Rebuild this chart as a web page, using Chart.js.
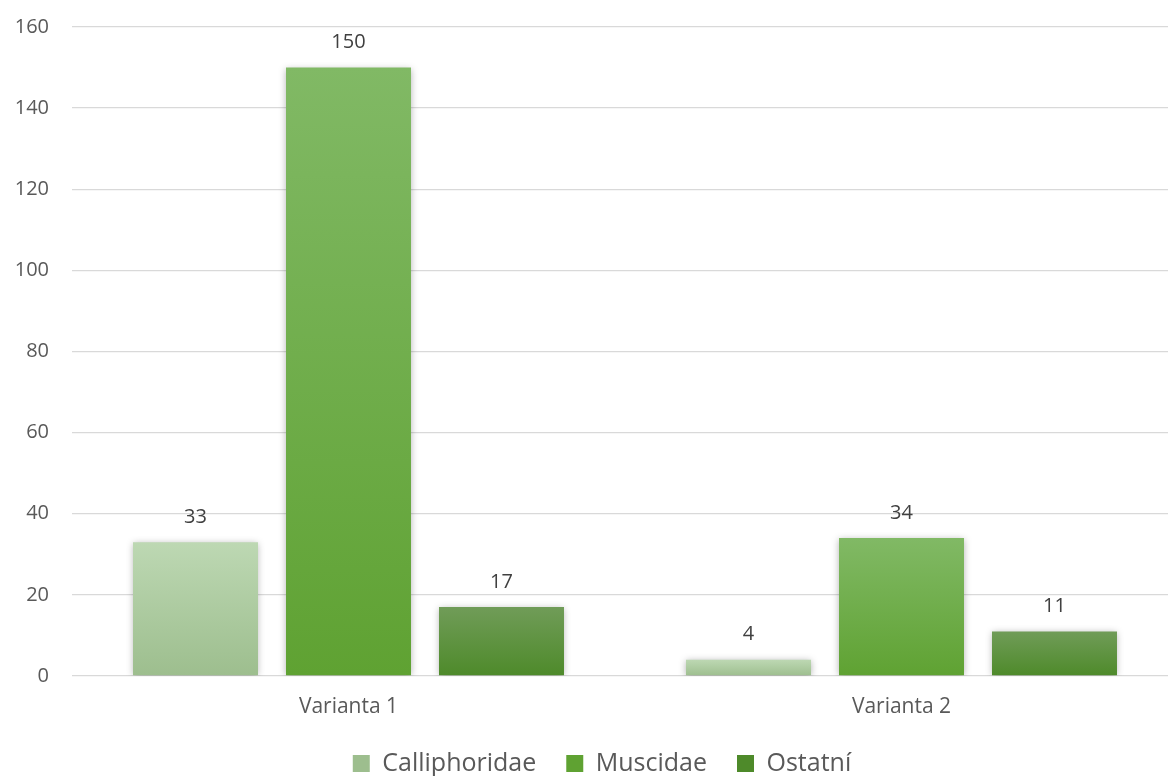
<!DOCTYPE html>
<html>
<head>
<meta charset="utf-8">
<script src="https://cdn.jsdelivr.net/npm/chart.js@4.4.0/dist/chart.umd.min.js"></script>
<style>
  html, body { margin: 0; padding: 0; background: #fff; overflow: hidden; }
  #wrap { width: 1178px; height: 794px; margin-top: -8px; }
</style>
</head>
<body>
<div id="wrap"><canvas id="myChart"></canvas></div>
<script>
const categories = ['Varianta 1', 'Varianta 2'];
const seriesNames = ['Calliphoridae', 'Muscidae', 'Ostatní'];
const calliphoridae = [33, 4];
const muscidae = [150, 34];
const ostatni = [17, 11];
const yTicks = [0, 20, 40, 60, 80, 100, 120, 140, 160];

const FONT = '"Open Sans", sans-serif';

// top / bottom shades of each bar gradient
const shades = [
    ['#bdd8b3', '#9dbe8e', '#b0cfa3'],
    ['#81b965', '#5fa232', '#6cad45'],
    ['#709c58', '#4e8a2a', '#5f933f']
];

function barFill(i) {
    return function (c) {
        const s = shades[i];
        const chart = c.chart;
        if (c.type !== 'data' || !chart.chartArea || !chart.scales.y) return s[2];
        const y = chart.scales.y;
        const top = y.getPixelForValue(c.raw);
        const base = y.getPixelForValue(0);
        if (!isFinite(top) || base - top < 1) return s[0];
        const g = chart.ctx.createLinearGradient(0, top, 0, base);
        g.addColorStop(0, s[0]);
        g.addColorStop(1, s[1]);
        return g;
    };
}

const shadowPlugin = {
    id: 'barShadow',
    beforeDatasetsDraw(chart) {
        const ctx = chart.ctx;
        ctx.save();
        ctx.shadowColor = 'rgba(0,0,0,0.3)';
        ctx.shadowBlur = 7;
        ctx.shadowOffsetX = 0;
        ctx.shadowOffsetY = 1;
    },
    afterDatasetsDraw(chart) {
        chart.ctx.restore();
    }
};

// nudge the legend a little to the right of centre
const legendShift = {
    id: 'legendShift',
    afterLayout(chart) {
        if (chart.legend) {
            chart.legend.left += 13;
            chart.legend.right += 13;
        }
    }
};

const valueLabels = {
    id: 'valueLabels',
    afterDatasetsDraw(chart) {
        const ctx = chart.ctx;
        ctx.save();
        ctx.font = '20px ' + FONT;
        ctx.fillStyle = '#404040';
        ctx.textAlign = 'center';
        ctx.textBaseline = 'middle';
        chart.data.datasets.forEach((ds, i) => {
            chart.getDatasetMeta(i).data.forEach((el, j) => {
                ctx.fillText(String(ds.data[j]), el.x, el.y - 25);
            });
        });
        ctx.restore();
    }
};

const data = {
    labels: categories,
    datasets: [calliphoridae, muscidae, ostatni].map((vals, i) => ({
        label: seriesNames[i],
        data: vals,
        backgroundColor: barFill(i),
        borderWidth: 0,
        categoryPercentage: 0.83,
        barPercentage: 0.817
    }))
};

const config = {
    type: 'bar',
    data: data,
    options: {
        responsive: true,
        maintainAspectRatio: false,
        animation: false,
        layout: { padding: { top: 12, left: 0, right: 0, bottom: 0 } },
        scales: {
            x: {
                grid: { display: false },
                border: { display: false },
                ticks: { color: '#595959', font: { family: FONT, size: 21 }, padding: 10 },
                afterFit: (s) => { s.height = 45; }
            },
            y: {
                min: 0,
                max: 160,
                afterBuildTicks: (s) => { s.ticks = yTicks.map(v => ({ value: v })); },
                grid: { color: '#d9d9d9', lineWidth: 1.3, drawTicks: false },
                border: { display: false },
                ticks: { color: '#595959', font: { family: FONT, size: 20 }, padding: 23 },
                afterFit: (s) => { s.width = 72; }
            }
        },
        plugins: {
            legend: {
                position: 'bottom',
                labels: {
                    boxWidth: 17,
                    boxHeight: 17,
                    padding: 30,
                    color: '#595959',
                    font: { family: FONT, size: 25 }
                }
            },
            tooltip: { enabled: false }
        }
    },
    plugins: [shadowPlugin, legendShift, valueLabels]
};

let myChart = new Chart(document.getElementById('myChart').getContext('2d'), config);
</script>
</body>
</html>
